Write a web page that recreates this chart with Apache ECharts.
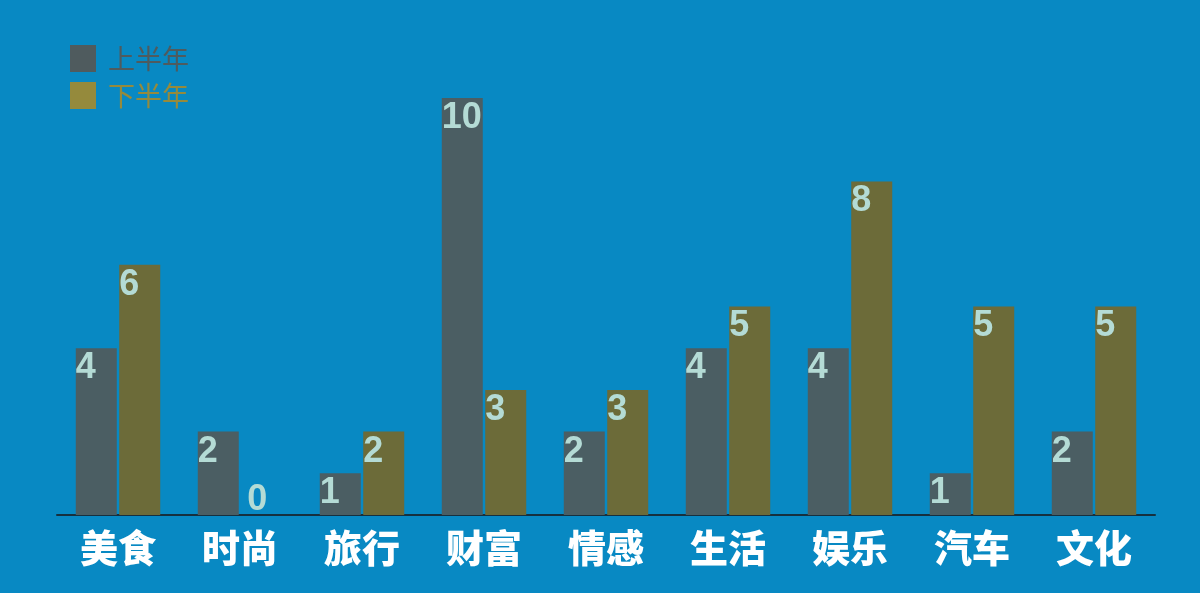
<!DOCTYPE html>
<html>
<head>
<meta charset="utf-8">
<title>上半年 / 下半年</title>
<script src="https://cdn.jsdelivr.net/npm/echarts@6/dist/echarts.min.js"></script>
<style>
  html, body { margin: 0; padding: 0; background: #0889c3; }
  #main { width: 1200px; height: 593px; }
</style>
</head>
<body>
<div id="main"></div>
<script>
// data
var categories = ['美食', '时尚', '旅行', '财富', '情感', '生活', '娱乐', '汽车', '文化'];
var firstHalf = [4, 2, 1, 10, 2, 4, 4, 1, 2];
var secondHalf = [6, 0, 2, 3, 3, 5, 8, 5, 5];
var seriesNames = ['上半年', '下半年'];

var barColors = ['#4b5e63', '#6c6b39'];
var legendColors = ['#4f5b5e', '#958a3c'];

// zero-height bars get their label lifted above the axis
function toItems(values) {
  return values.map(function (v) {
    if (v === 0) {
      return { value: v, label: { position: [6, -33] } };
    }
    return v;
  });
}

var myChart = echarts.init(document.getElementById('main'));

var option = {
  backgroundColor: '#0889c3',
  animation: false,
  legend: {
    orient: 'vertical',
    left: 70,
    top: 45,
    padding: 0,
    icon: 'rect',
    itemWidth: 26,
    itemHeight: 27,
    itemGap: 10,
    selectedMode: false,
    textStyle: {
      fontFamily: 'Noto Sans CJK SC',
      fontSize: 27,
      lineHeight: 27,
      padding: [0, 0, 0, 7]
    },
    data: seriesNames.map(function (n, i) {
      return {
        name: n,
        itemStyle: { color: legendColors[i] },
        textStyle: { color: legendColors[i] }
      };
    })
  },
  grid: {
    left: 57,
    right: 45,
    top: 98,
    bottom: 78
  },
  xAxis: {
    type: 'category',
    data: categories,
    axisTick: { show: false },
    axisLine: {
      lineStyle: { color: '#16303f', width: 2 }
    },
    axisLabel: {
      color: '#ffffff',
      fontFamily: 'Noto Sans CJK SC',
      fontWeight: 900,
      fontSize: 38,
      margin: 14
    }
  },
  yAxis: {
    type: 'value',
    min: 0,
    max: 10,
    show: false,
    splitLine: { show: false }
  },
  series: [firstHalf, secondHalf].map(function (vals, i) {
    return {
      name: seriesNames[i],
      type: 'bar',
      barWidth: 41,
      barGap: '6%',
      data: toItems(vals),
      itemStyle: { color: barColors[i] },
      label: {
        show: true,
        position: [0, 2],
        color: '#b4dbd5',
        fontFamily: 'Liberation Sans',
        fontWeight: 'bold',
        fontSize: 36
      }
    };
  })
};

myChart.setOption(option);
</script>
</body>
</html>
